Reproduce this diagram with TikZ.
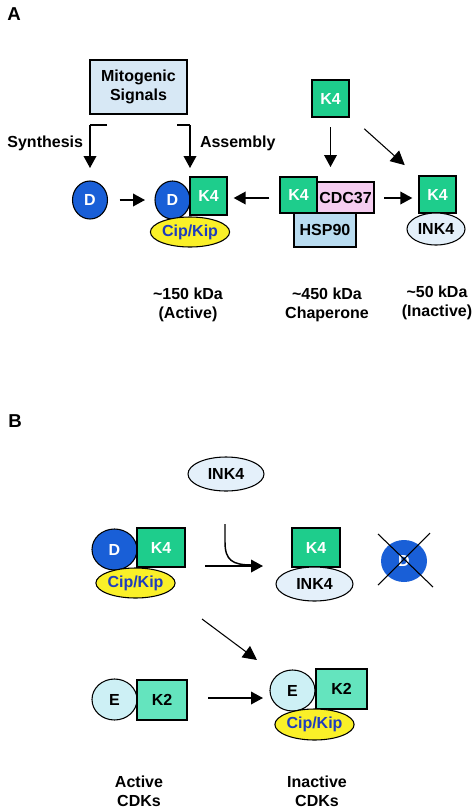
\documentclass[tikz,border=0pt]{standalone}
\usepackage{fontspec}
\setmainfont{Liberation Sans}
\usetikzlibrary{arrows.meta,shapes.geometric}
\definecolor{dblue}{RGB}{25,95,215}
\definecolor{kgreen}{RGB}{30,205,140}
\definecolor{ktwo}{RGB}{100,228,190}
\definecolor{ecyan}{RGB}{205,240,245}
\definecolor{cipyellow}{RGB}{250,240,40}
\definecolor{cipblue}{RGB}{30,60,190}
\definecolor{inkfill}{RGB}{228,240,250}
\definecolor{hspfill}{RGB}{185,220,240}
\definecolor{cdcfill}{RGB}{245,205,240}
\definecolor{sigfill}{RGB}{215,232,245}
\begin{document}
\begin{tikzpicture}[x=0.75pt,y=-0.75pt,
  every node/.style={inner sep=0pt,outer sep=0pt,font=\bfseries\fontsize{12}{14}\selectfont},
  box/.style={rectangle,draw,line width=0.8pt},
  oval/.style={ellipse,draw,line width=0.8pt},
  dcirc/.style={oval,fill=dblue,text=white},
  kfour/.style={box,fill=kgreen,text=white},
  cip/.style={oval,fill=cipyellow,text=cipblue,minimum width=64*0.75pt,minimum height=30*0.75pt},
  ink/.style={oval,fill=inkfill},
  arr/.style={-{Triangle[length=9pt,width=9.5pt]},line width=1.1pt},
  thinarr/.style={-{Triangle[length=10.5pt,width=10.5pt]},line width=0.8pt},
  lbl/.style={align=center}
]
\useasboundingbox[fill=white] (0,0) rectangle (474,811);

% ---------- Panel A ----------
\node[font=\bfseries\fontsize{14}{16}\selectfont] (lblA) at (14,14) {A};
\node[box,fill=sigfill,minimum width=97*0.75pt,minimum height=54*0.75pt,align=center] (sig) at (138.5,87) {Mitogenic\\Signals};
\node[anchor=east] (synth) at (83,143) {Synthesis};
\node[anchor=west] (assem) at (200,143) {Assembly};
\coordinate (sy) at (107,125);
\coordinate (as) at (177,125);

\node[dcirc,minimum width=35*0.75pt,minimum height=38*0.75pt] (D1) at (90,200) {D};
\node[dcirc,minimum width=35*0.75pt,minimum height=38*0.75pt] (D2) at (172.5,200) {D};
\node[kfour,minimum width=37*0.75pt,minimum height=38*0.75pt] (K4a) at (208.5,196) {K4};
\node[cip] (cip1) at (190,232) {Cip/Kip};

\node[kfour,minimum width=37*0.75pt,minimum height=37*0.75pt] (K4top) at (330.5,98.5) {K4};

\node[box,fill=cdcfill,minimum width=57*0.75pt,minimum height=31*0.75pt] (cdc) at (345.5,197.5) {CDC37};
\node[box,fill=hspfill,minimum width=62*0.75pt,minimum height=34*0.75pt] (hsp) at (325,230) {HSP90};
\node[kfour,minimum width=37*0.75pt,minimum height=36*0.75pt] (K4c) at (298.5,195) {K4};

\node[kfour,minimum width=37*0.75pt,minimum height=37*0.75pt] (K4r) at (437.5,194.5) {K4};
\node[ink,minimum width=58*0.75pt,minimum height=32*0.75pt] (inkr) at (436,229) {INK4};

\node[lbl] (l150) at (188,305) {\textasciitilde150 kDa\\(Active)};
\node[lbl] (l450) at (327,305) {\textasciitilde450 kDa\\Chaperone};
\node[lbl] (l50) at (437,303) {\textasciitilde50 kDa\\(Inactive)};

\draw[line width=1.1pt] (sy) -- (90,125);
\draw[arr,shorten >=9.75pt] (90,125) -- (D1.north);
\draw[line width=1.1pt] (as) -- (190,125);
\draw[arr,shorten >=24pt] (190,125) -- (D2.east);
\draw[arr,shorten <=9pt,shorten >=7.5pt] (D1.east) -- (D2.west);
\draw[arr,shorten <=7.5pt,shorten >=11.25pt] (K4top.south) -- (K4top.south |- cdc.north);
\draw[thinarr,shorten <=34pt,shorten >=33pt] (K4top.center) -- (K4r.center);
\draw[arr,shorten <=8pt,shorten >=5pt] (K4c.west |- 0,198) -- (K4a.east |- 0,198);
\draw[arr,shorten <=7.5pt,shorten >=5pt] (cdc.east |- 0,198) -- (K4r.west |- 0,198);

% ---------- Panel B ----------
\node[font=\bfseries\fontsize{14}{16}\selectfont] (lblB) at (15,421) {B};
\node[ink,minimum width=76*0.75pt,minimum height=34*0.75pt] (inkb) at (226,474) {INK4};

\node[dcirc,minimum width=45*0.75pt,minimum height=41*0.75pt] (Db) at (114.5,549.5) {D};
\node[kfour,minimum width=48*0.75pt,minimum height=39*0.75pt] (K4b) at (161,547.5) {K4};
\node[cip,minimum width=65*0.75pt] (cipb) at (135.5,583) {Cip/Kip};

\node[kfour,minimum width=48*0.75pt,minimum height=39*0.75pt] (K4b2) at (316,547.5) {K4};
\node[ink,minimum width=77*0.75pt,minimum height=34*0.75pt] (inkb2) at (314.5,584) {INK4};

\node[dcirc,draw=none,minimum width=46*0.75pt,minimum height=42*0.75pt] (Dx) at (404,561) {D};
\coordinate (x1) at (378,534);
\coordinate (x2) at (433,587);
\coordinate (x3) at (430,533);
\coordinate (x4) at (378,585);
\draw[line width=0.8pt] (x1) -- (x2);
\draw[line width=0.8pt] (x3) -- (x4);

\coordinate (hb1) at (205,566);
\draw[arr,shorten >=9.75pt] (hb1) -- (inkb2.west |- hb1);
\coordinate (cb1) at (225,524);
\coordinate (cb2) at (252,565);
\draw[line width=1.1pt] (cb1) -- (225,542) .. controls (225,560) and (232,565) .. (cb2);

\coordinate (db1) at (202,619);
\coordinate (db2) at (257,660);
\draw[thinarr] (db1) -- (db2);

\node[oval,fill=ecyan,minimum width=45*0.75pt,minimum height=41*0.75pt] (Eb) at (114.5,699.5) {E};
\node[box,fill=ktwo,minimum width=50*0.75pt,minimum height=40*0.75pt] (K2b) at (162,700) {K2};

\node[oval,fill=ecyan,minimum width=45*0.75pt,minimum height=41*0.75pt] (Eb2) at (292.5,690.5) {E};
\node[box,fill=ktwo,minimum width=51*0.75pt,minimum height=40*0.75pt] (K2b2) at (341.5,689) {K2};
\node[cip,minimum width=65*0.75pt,minimum height=31*0.75pt] (cipb2) at (314.5,724.5) {Cip/Kip};

\draw[arr,shorten <=15.75pt,shorten >=5.25pt] (K2b.east |- 0,698) -- (Eb2.west |- 0,698);

\node[lbl] (lact) at (139,791) {Active\\CDKs};
\node[lbl] (linact) at (317,791) {Inactive\\CDKs};
\end{tikzpicture}
\end{document}
